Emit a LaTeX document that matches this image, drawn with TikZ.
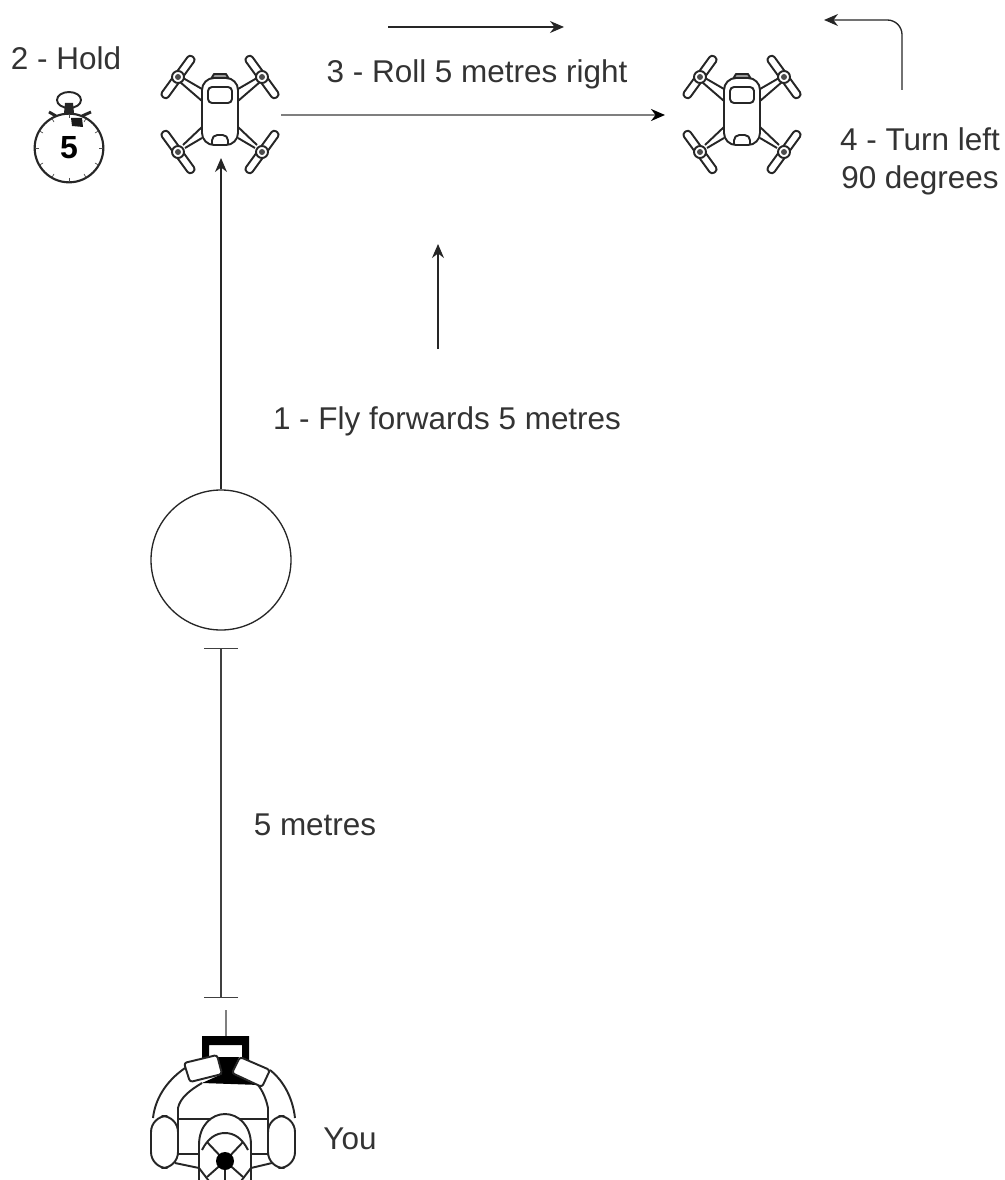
\documentclass[tikz,border=0pt]{standalone}
\usepackage{fontspec}
\setmainfont{Liberation Sans}
\usetikzlibrary{arrows.meta}
\definecolor{labelgrey}{HTML}{333333}
\definecolor{linegrey}{HTML}{7F7F7F}
\tikzstyle{flow_arrow} = [draw=black!85, line width=1pt, -{Stealth[length=10.5pt,width=9pt]}]
\tikzstyle{step_label} = [text=labelgrey, font=\fontsize{23.6}{28.5}\selectfont, inner sep=0pt, align=center]
\tikzstyle{icon_line} = [draw=black!85, line width=1.45pt, line join=round]
\tikzstyle{blade} = [icon_line, fill=white]
\tikzset{
	rotor/.pic={
		\draw[blade, rotate=-36, rounded corners=2.5pt] (-4,-25) rectangle (4,25);
		\draw[blade] (0,0) circle (6);
		\fill[black!70] (0,0) circle (3);
	},
	rotorb/.pic={
		\draw[blade, rotate=36, rounded corners=2.5pt] (-4,-25) rectangle (4,25);
		\draw[blade] (0,0) circle (6);
		\fill[black!70] (0,0) circle (3);
	},
	drone/.pic={
		% arms
		\draw[icon_line] (-18,-23) -- (-37,-34) (-18,-11) -- (-40,-30);
		\draw[icon_line] (18,-23) -- (37,-34) (18,-11) -- (40,-30);
		\draw[icon_line] (-18,15) -- (-37,33) (-18,26) -- (-35,36);
		\draw[icon_line] (18,15) -- (37,33) (18,26) -- (35,36);
		% rotors
		\pic at (-42,-35) {rotor};
		\pic at (42,-35) {rotorb};
		\pic at (-42,40) {rotorb};
		\pic at (42,40) {rotor};
		% body
		\draw[icon_line, fill=black!40] (-9,-33) -- (-6,-38) -- (6,-38) -- (9,-33);
		\draw[icon_line, fill=white, rounded corners=9] (-18,-34) rectangle (18,33);
		\draw[icon_line, rounded corners=3] (-12,-25) rectangle (12,-9);
		\draw[icon_line, rounded corners=4] (-8,33) -- (-8,23) -- (8,23) -- (8,33);
	}
}
\begin{document}
\begin{tikzpicture}[x=.75pt, y=-.75pt]
	\useasboundingbox (0,0) rectangle (1004,1180);
	\clip (0,0) rectangle (1004,1180);

	% labels
	\node[step_label] (hold) at (66,58) {2 - Hold};
	\node[step_label] (roll) at (477,74) {3 - Roll 5 metres right};
	\node[step_label] (forwards) at (447,421) {1 - Fly forwards 5 metres};
	\node[step_label] (distance) at (315,825) {5 metres};
	\node[step_label] (you) at (350,1139) {You};
	\node[step_label] (turn) at (920,161) {4 - Turn left\\90 degrees};

	% drones
	\pic at (220,112) {drone};
	\pic at (742,112) {drone};

	% stopwatch
	\draw[icon_line] (69,100) ellipse (12 and 8);
	\fill[black!85] (65,103) -- (73,103) -- (74,113) -- (64,113) -- cycle;
	\draw[icon_line, line width=2.2pt] (49,112) -- (56,116);
	\draw[icon_line, line width=2.2pt] (91,112) -- (82,116);
	\node[circle, draw=black!85, line width=1.6pt, minimum size=51.5pt, inner sep=0pt, font=\fontsize{24}{24}\selectfont\bfseries] (watch) at (69,148) {5};
	\fill[black!90] (71,118) -- (82,118) -- (83,127) -- (72,126) -- cycle;
	\foreach \a in {0,30,...,330}
		\draw[black!70, line width=.5pt] (69,148) ++(\a:30) -- ++(\a:4);

	% waypoints
	\node[circle, draw=black!85, line width=1pt, minimum size=105pt, inner sep=0pt] (start) at (221,560) {};
	\coordinate (droneAfoot) at (221,158);
	\coordinate (droneAside) at (281,115);
	\coordinate (droneBside) at (665,115);
	\coordinate (rollfrom) at (388,27);
	\coordinate (rollto) at (564,27);
	\coordinate (flyfrom) at (438,349);
	\coordinate (flyto) at (438,244);
	\coordinate (turnfrom) at (902,90);
	\coordinate (turnto) at (824,20);
	\coordinate (gaugetop) at (221,648);
	\coordinate (gaugefoot) at (221,998);
	\coordinate (aerial) at (226,1010);
	\coordinate (radio) at (226,1037);

	% draw lines
	\draw[flow_arrow] (start.north) -- (droneAfoot);
	\draw[flow_arrow, draw=linegrey, line width=1.8pt, -{Stealth[length=10.5pt,width=9pt,color=black]}] (droneAside) -- (droneBside);
	\draw[flow_arrow] (rollfrom) -- (rollto);
	\draw[flow_arrow] (flyfrom) -- (flyto);
	\draw[flow_arrow, rounded corners=11pt] (turnfrom) |- (turnto);
	\draw[draw=black!75, line width=1pt, {Bar[width=25.5pt]}-{Bar[width=25.5pt]}] (gaugetop) -- (gaugefoot);
	\draw[draw=linegrey, line width=1.3pt] (aerial) -- (radio);

	% pilot
	\draw[icon_line] (185,1068) .. controls (165,1082) and (155,1100) .. (153,1118);
	\draw[icon_line] (270,1070) .. controls (285,1082) and (293,1100) .. (295,1118);
	\draw[icon_line] (178,1155) -- (178,1108) .. controls (180,1098) and (190,1090) .. (202,1083);
	\draw[icon_line] (268,1155) -- (268,1108) .. controls (266,1098) and (262,1090) .. (258,1085);
	\draw[icon_line] (178,1119) -- (268,1119);
	\draw[icon_line] (178,1154) -- (200,1154) (250,1154) -- (268,1154);
	\draw[icon_line] (175,1163) -- (199,1168) (251,1168) -- (272,1163);
	\draw[icon_line, fill=white, rounded corners=12] (151,1116) rectangle (178,1168);
	\draw[icon_line, fill=white, rounded corners=12] (268,1116) rectangle (295,1168);
	\fill[black] (202,1060) -- (202,1036) -- (249,1036) -- (249,1060) -- (242,1060) -- (242,1045) -- (209,1045) -- (209,1060) -- cycle;
	\fill[black] (218,1057) -- (239,1057) -- (232,1073) -- (260,1085) -- (202,1083) -- (222,1074) -- cycle;
	\draw[icon_line, fill=white, rounded corners=2] (184,1063) -- (217,1055) -- (222,1074) -- (190,1082) -- cycle;
	\draw[icon_line, fill=white, rounded corners=2] (240,1057) -- (270,1070) -- (262,1087) -- (232,1073) -- cycle;
	\draw[icon_line, fill=white] (199,1185) -- (199,1145) .. controls (199,1125) and (212,1114) .. (225,1114) .. controls (238,1114) and (251,1125) .. (251,1145) -- (251,1185);
	\draw[icon_line] (202,1150) .. controls (208,1138) and (216,1133) .. (225,1133) .. controls (234,1133) and (242,1138) .. (248,1150);
	\draw[icon_line] (207,1142) -- (225,1161) -- (243,1142);
	\draw[icon_line] (207,1177) -- (225,1161) -- (243,1177) (225,1161) -- (225,1185);
	\draw[icon_line] (199,1168) -- (212,1185) (251,1168) -- (238,1185);
	\fill[black] (225,1161) circle (9);
\end{tikzpicture}
\end{document}
